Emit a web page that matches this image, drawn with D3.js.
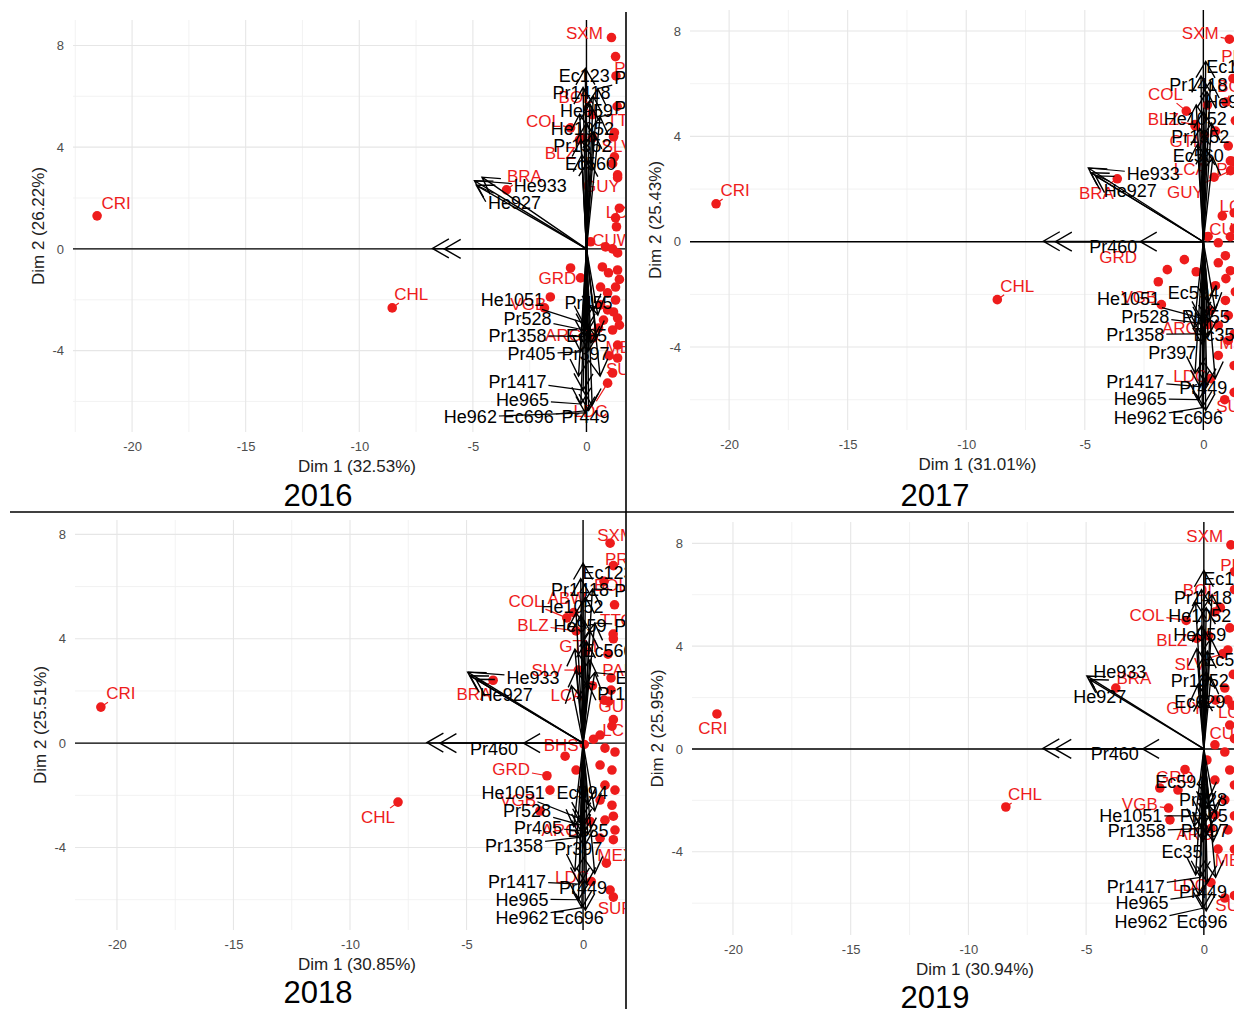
<!DOCTYPE html>
<html>
<head>
<meta charset="utf-8">
<script src="https://cdn.jsdelivr.net/npm/d3@7"></script>
<style>
  body { margin: 0; background: #fff; }
  svg { display: block; font-family: "Liberation Sans", Arial, sans-serif; }
</style>
</head>
<body>
<svg id="chart" width="1234" height="1009"></svg>
<script>
// ---- PCA biplots, one per year ----
const years = ["2016", "2017", "2018", "2019"];
const dim1Pct = [32.53, 31.01, 30.85, 30.94];
const dim2Pct = [26.22, 25.43, 25.51, 25.95];
const xTicks = [-20, -15, -10, -5, 0];
const yTicks = [-4, 0, 4, 8];

// Individuals: code, Dim 1, Dim 2, label Dim 1, label Dim 2 (label omitted when absent)
const countries2016 = [
  ["CRI", -21.54, 1.30, -20.70, 1.81], ["CHL", -8.55, -2.32, -7.71, -1.77],
  ["BRA", -3.52, 2.32, -2.73, 2.87], ["SXM", 1.10, 8.31, -0.09, 8.50],
  ["PRI", 1.28, 7.56, 1.85, 7.13], ["BOL", 0.26, 5.28, -0.48, 5.98],
  ["COL", -0.70, 4.76, -1.89, 5.04], ["BLZ", -0.31, 4.29, -1.15, 3.78],
  ["TTO", 1.23, 4.57, 1.65, 5.08], ["SLV", 1.15, 3.35, 1.35, 4.06],
  ["GUY", 1.37, 2.91, 0.66, 2.48], ["LCN", 1.28, 1.22, 1.60, 1.46],
  ["CUW", 0.18, 0.28, 1.15, 0.35], ["GRD", -0.70, -0.75, -1.28, -1.14],
  ["VGB", -1.85, -2.32, -2.56, -2.17], ["ARG", 0.53, -3.11, -1.01, -3.39],
  ["MEX", 1.37, -3.78, 1.65, -3.86], ["SUR", 1.37, -4.29, 1.65, -4.72],
  ["LDC", 0.93, -5.28, 0.18, -6.35],
  ["ABW", -0.18, 4.37], ["AIA", 0.26, 4.37], ["ATG", 1.19, 4.41], ["BHS", 1.23, 3.62],
  ["BRB", 1.37, 2.80], ["CYM", 1.32, 0.87], ["DMA", 0.84, 0.08], ["DOM", 1.15, 0.00],
  ["ECU", 1.37, -0.16], ["GTM", 0.70, -0.71], ["HND", 0.97, -0.94], ["HTI", 1.37, -0.83],
  ["JAM", -0.26, -1.14], ["KNA", 0.62, -1.50], ["MSR", 0.93, -1.73], ["NIC", 1.28, -1.50],
  ["PAN", 1.28, -2.01], ["PER", 0.62, -2.20], ["PRY", 0.93, -2.40], ["TCA", 1.19, -2.48],
  ["URY", 1.37, -2.72], ["VCT", 0.75, -2.80], ["VEN", 1.15, -3.19], ["VIR", 1.15, -4.88],
  ["CUB", -1.59, -1.89], ["BMU", 1.30, 6.80], ["LCA", 1.45, 1.60], ["BES", 1.45, -1.20],
  ["MAF", 1.45, -3.00], ["GLP", 1.35, 5.60], ["MTQ", 0.30, -3.50], ["GUF", 1.00, -4.20]
];
const countries2017 = [
  ["CRI", -20.55, 1.44, -19.75, 1.97], ["CHL", -8.69, -2.20, -7.85, -1.67],
  ["BRA", -3.63, 2.39, -4.51, 1.86], ["SXM", 1.10, 7.69, -0.13, 7.92],
  ["PRI", 1.45, 6.75, 1.35, 7.05], ["COL", -0.72, 4.96, -1.60, 5.61],
  ["BOL", 0.95, 5.30, 1.30, 5.90], ["BLZ", -0.35, 4.45, -1.69, 4.66],
  ["GTM", 0.05, 4.05, -0.63, 3.83], ["LCA", 0.45, 2.45, -0.55, 2.77],
  ["PAN", 1.25, 3.05, 1.25, 2.77], ["GUY", 1.15, 2.70, -0.76, 1.89],
  ["LCN", 1.30, 1.10, 1.40, 1.36], ["CUW", 0.20, 0.20, 1.10, 0.49],
  ["GRD", -0.80, -0.68, -3.59, -0.57], ["VGB", -1.77, -2.39, -2.70, -2.08],
  ["ARG", 0.20, -3.15, -0.97, -3.26], ["MEX", 1.30, -3.50, 1.45, -3.83],
  ["LDC", 0.30, -5.20, -0.55, -5.08], ["SUR", 1.30, -5.72, 1.30, -6.25],
  ["ABW", 0.17, 0.19], ["AIA", 0.63, -0.04], ["ATG", 1.14, 0.19], ["BHS", 0.93, -0.53],
  ["BRB", 0.63, -0.80], ["CYM", 1.14, -1.10], ["DMA", -1.52, -1.06], ["DOM", -0.30, -1.14],
  ["ECU", -1.90, -1.52], ["HND", 0.51, -1.67], ["HTI", 0.93, -2.23], ["JAM", 0.30, -2.61],
  ["KNA", 1.05, -2.80], ["MSR", 0.63, -3.18], ["NIC", 1.05, -3.75], ["PER", 0.63, -4.32],
  ["PRY", -0.34, 4.39], ["TCA", 0.51, 4.20], ["URY", 1.05, 3.64], ["VCT", 1.14, 3.07],
  ["VEN", 0.80, 0.98], ["VIR", 0.17, 5.19], ["CUB", 1.25, 6.20], ["BMU", 1.35, -1.90],
  ["TTO", 1.35, 4.60], ["SLV", 0.90, -6.00], ["BES", 1.30, -4.70], ["MAF", 0.95, -1.40],
  ["GLP", 1.30, 0.50]
];
const countries2018 = [
  ["CRI", -20.69, 1.38, -19.83, 1.92], ["CHL", -7.94, -2.26, -8.80, -2.84],
  ["BRA", -3.86, 2.41, -4.68, 1.88], ["SXM", 1.16, 7.66, 1.40, 7.97],
  ["PRI", 1.30, 6.80, 1.55, 7.05], ["BOL", 0.90, 6.20, 1.20, 6.05],
  ["ABW", -0.40, 5.00, -0.69, 5.56], ["COL", -0.70, 4.80, -2.45, 5.44],
  ["BLZ", -0.30, 4.30, -2.15, 4.52], ["TTO", 1.30, 4.00, 1.45, 4.71],
  ["GTM", 0.10, 3.50, -0.21, 3.72], ["SLV", -0.20, 2.80, -1.55, 2.80],
  ["PAN", 1.20, 2.50, 1.55, 2.80], ["LCA", 0.40, 2.20, -0.69, 1.84],
  ["GUY", 1.10, 1.60, 1.45, 1.42], ["LCN", 1.30, 0.90, 1.55, 0.50],
  ["BHS", 0.05, -0.05, -0.94, -0.08], ["GRD", -1.55, -1.25, -3.09, -1.00],
  ["VGB", -1.85, -2.60, -2.79, -2.18], ["ARG", 0.30, -3.00, -0.99, -3.33],
  ["MEX", 1.30, -3.70, 1.40, -4.29], ["LDC", 0.35, -5.30, -0.47, -5.13],
  ["SUR", 1.30, -5.90, 1.40, -6.32],
  ["AIA", 1.29, 4.18], ["ATG", 1.07, 3.41], ["BRB", 1.20, 2.03], ["CYM", 0.90, 1.65],
  ["DMA", 1.24, 0.65], ["DOM", 0.73, 0.31], ["ECU", 0.94, -0.19], ["HND", 1.37, -0.34],
  ["HTI", -0.77, -0.50], ["JAM", -0.30, -1.03], ["KNA", -1.42, -1.80], ["MSR", 0.73, -0.84],
  ["NIC", 1.24, -1.03], ["PER", 0.94, -1.61], ["PRY", 1.37, -1.80], ["TCA", 0.73, -2.18],
  ["URY", 1.24, -2.38], ["VCT", 0.94, -2.95], ["VEN", 1.37, -3.33], ["VIR", 0.73, -3.64],
  ["CUB", 1.16, -5.63], ["CUW", 0.45, 0.15], ["BMU", 1.35, 5.30], ["BES", 1.30, -2.80],
  ["MAF", 1.00, -4.60]
];
const countries2019 = [
  ["CRI", -20.68, 1.36, -20.85, 0.82], ["CHL", -8.41, -2.26, -7.60, -1.75],
  ["BRA", -3.74, 2.37, -2.97, 2.76], ["SXM", 1.15, 7.94, 0.04, 8.29],
  ["PRI", 1.30, 6.90, 1.30, 7.16], ["BOL", 0.70, 5.50, -0.17, 6.19],
  ["COL", -0.75, 5.00, -2.42, 5.21], ["BLZ", -0.30, 4.30, -1.36, 4.24],
  ["SLV", 0.80, 3.70, -0.59, 3.31], ["GUY", 0.50, 1.90, -0.81, 1.60],
  ["LCA", 1.20, 1.70, 1.30, 1.44], ["CUW", 1.30, 0.40, 1.10, 0.62],
  ["GRD", -0.80, -0.80, -1.23, -1.09], ["VGB", -1.50, -2.30, -2.72, -2.14],
  ["ARG", 0.30, -3.10, -0.38, -3.31], ["MEX", 1.30, -3.90, 1.25, -4.32],
  ["LDC", 0.30, -5.20, -0.59, -5.29], ["SUR", 1.30, -5.70, 1.25, -6.07],
  ["ABW", 0.47, 5.33], ["AIA", 1.10, 4.71], ["ATG", 1.02, 3.85], ["BHS", 0.89, 2.37],
  ["BRB", 1.02, 1.91], ["CYM", 1.10, 0.93], ["DMA", 0.47, 0.16], ["DOM", 0.89, -0.12],
  ["ECU", 0.13, -0.43], ["HND", -1.10, -1.60], ["HTI", -1.87, -1.52], ["JAM", -1.44, -2.76],
  ["KNA", 0.47, -1.21], ["MSR", 0.89, -1.98], ["NIC", 1.10, -0.82], ["PER", 0.47, -2.57],
  ["PRY", 1.02, -3.15], ["TCA", 0.89, -5.80], ["URY", 1.30, -1.40], ["VCT", 1.30, -2.60],
  ["VEN", 0.60, -3.90], ["VIR", 1.25, 2.90], ["CUB", 1.30, 6.20], ["TTO", 0.20, 4.40]
];

// Variables: name, Dim 1, Dim 2, label Dim 1, label Dim 2 (null name = label not shown)
const vars2016 = [
  ["Ec123", -0.05, 7.10, -0.10, 6.80], ["Pr1418", -0.15, 6.35, -0.22, 6.14],
  ["He959", 0.15, 5.70, 0.00, 5.43], ["He1052", 0.00, 4.95, -0.18, 4.72],
  ["Pr1352", -0.25, 4.30, -0.18, 4.06], ["Ec560", 0.10, 3.50, 0.18, 3.35],
  ["Pr1436", 0.50, 6.30, 2.50, 6.73], ["Pr1433", 0.60, 5.20, 2.50, 5.55],
  [null, 0.30, 6.00], [null, -0.30, 5.30], [null, 0.30, 4.60], [null, -0.20, 3.70],
  ["He933", -4.93, 2.68, -2.03, 2.48], ["He927", -4.85, 2.50, -3.17, 1.81],
  [null, -4.60, 2.82],
  [null, -6.78, 0.02], [null, -6.26, 0.00],
  ["Pr455", 0.30, -2.45, 0.09, -2.09], ["He1051", -0.15, -2.90, -3.26, -2.00],
  ["Pr528", -0.05, -3.20, -2.60, -2.72], ["Pr1358", -0.10, -3.45, -3.04, -3.39],
  ["Ec35", 0.20, -3.70, 0.00, -3.39], ["Pr405", -0.25, -4.05, -2.42, -4.13],
  ["Pr397", 0.10, -4.00, -0.04, -4.13], ["Pr1417", -0.15, -5.55, -3.04, -5.20],
  ["He965", -0.25, -6.10, -2.82, -5.94], ["He962", -0.05, -6.45, -5.11, -6.61],
  ["Ec696", 0.10, -6.35, -2.56, -6.61], ["Pr449", 0.25, -6.15, -0.04, -6.61],
  [null, 0.50, -2.60], [null, 0.45, -3.50], [null, 0.60, -5.00], [null, -0.35, -5.00]
];
const vars2017 = [
  ["Ec123", 0.10, 6.85, 1.20, 6.67], ["Pr1418", -0.10, 6.30, -0.21, 5.98],
  ["He959", 0.15, 5.70, 1.20, 5.34], ["He1052", 0.00, 4.95, -0.34, 4.66],
  ["Pr1352", -0.15, 4.30, -0.13, 3.98], ["Ec560", 0.10, 3.55, -0.21, 3.26],
  [null, 0.30, 6.10], [null, -0.30, 5.20], [null, 0.35, 4.50], [null, -0.25, 3.70], [null, 0.40, 3.20],
  ["He933", -4.85, 2.80, -2.11, 2.58], ["He927", -4.75, 2.62, -3.08, 1.93],
  [null, -4.55, 2.50],
  [null, -6.75, 0.02], [null, -6.24, 0.00],
  ["Pr460", -2.66, 0.00, -3.80, -0.19],
  ["Ec594", 0.20, -2.30, -0.42, -1.93], ["He1051", -0.10, -2.90, -3.16, -2.16],
  ["Pr528", -0.05, -3.10, -2.45, -2.84], ["Pr455", 0.25, -3.00, 0.10, -2.84],
  ["Pr1358", -0.10, -3.50, -2.87, -3.52], ["Ec35", 0.20, -3.60, 0.45, -3.52],
  ["Pr397", -0.05, -3.90, -1.31, -4.20], ["Pr1417", -0.15, -5.50, -2.87, -5.30],
  ["Pr449", 0.15, -5.45, 0.00, -5.53], ["He965", -0.20, -6.00, -2.66, -5.95],
  ["He962", -0.05, -6.30, -2.66, -6.67], ["Ec696", 0.10, -6.40, -0.25, -6.67],
  [null, 0.50, -2.60], [null, -0.40, -3.30], [null, 0.50, -5.20], [null, -0.35, -5.00]
];
const vars2018 = [
  ["Ec123", 0.00, 6.90, 1.07, 6.55], ["Pr1418", -0.10, 6.30, -0.13, 5.90],
  ["He1052", 0.10, 5.60, -0.47, 5.25], ["He959", -0.10, 4.90, -0.13, 4.52],
  ["Ec560", 0.15, 3.90, 1.07, 3.56], ["Pr1352", 0.20, 2.30, 1.85, 1.92],
  ["Pr1436", 0.40, 5.90, 2.58, 5.86], ["Pr1433", 0.50, 4.60, 2.58, 4.52],
  ["Ec629", 0.50, 2.70, 2.49, 2.53],
  [null, -0.30, 5.00], [null, 0.30, 4.30], [null, -0.35, 3.60], [null, -0.30, 2.80],
  [null, 0.30, 3.20], [null, -0.50, 2.20],
  ["He933", -4.95, 2.72, -2.15, 2.53], ["He927", -4.85, 2.58, -3.30, 1.88],
  [null, -4.60, 2.45],
  [null, -6.70, 0.02], [null, -6.14, 0.00],
  ["Pr460", -2.55, 0.00, -3.82, -0.19],
  ["Ec594", 0.20, -2.35, -0.04, -1.88], ["He1051", -0.10, -2.90, -3.00, -1.88],
  ["Pr528", -0.05, -3.15, -2.40, -2.57], ["Pr405", -0.10, -3.35, -1.93, -3.22],
  ["Ec35", 0.20, -3.50, 0.21, -3.33], ["Pr1358", -0.10, -3.60, -2.96, -3.91],
  ["Pr397", 0.05, -3.95, -0.21, -4.02], ["Pr1417", -0.15, -5.40, -2.83, -5.29],
  ["Pr449", 0.15, -5.40, 0.00, -5.52], ["He965", -0.20, -6.00, -2.62, -5.98],
  ["He962", -0.05, -6.30, -2.62, -6.67], ["Ec696", 0.10, -6.40, -0.21, -6.67],
  [null, 0.50, -2.60], [null, -0.40, -3.20], [null, 0.50, -5.00], [null, -0.35, -4.90]
];
const vars2019 = [
  ["Ec123", 0.00, 6.95, 1.06, 6.65], ["Pr1418", -0.10, 6.20, -0.04, 5.88],
  ["He1052", 0.10, 5.50, -0.17, 5.21], ["He959", -0.10, 4.80, -0.17, 4.47],
  ["Ec560", 0.15, 3.80, 1.06, 3.46], ["Pr1352", 0.10, 3.00, -0.17, 2.68],
  ["Ec629", -0.05, 2.10, -0.17, 1.83],
  [null, 0.35, 6.00], [null, -0.35, 5.70], [null, 0.30, 4.30], [null, -0.30, 3.90],
  [null, 0.30, 2.80], [null, -0.25, 2.50],
  ["He933", -4.97, 2.84, -3.57, 3.00], ["He927", -4.84, 2.70, -4.42, 2.02],
  [null, -6.84, 0.02], [null, -6.33, 0.00],
  ["Pr460", -2.60, 0.00, -3.78, -0.16],
  ["Ec594", 0.20, -1.95, -0.98, -1.28], ["Pr528", 0.15, -2.30, -0.04, -1.98],
  ["He1051", -0.10, -2.60, -3.10, -2.61], ["Pr405", 0.25, -2.75, 0.00, -2.61],
  ["Pr1358", -0.10, -3.10, -2.85, -3.19], ["Pr397", 0.10, -3.30, 0.04, -3.19],
  ["Ec35", -0.05, -3.60, -0.93, -4.01], ["Pr1417", -0.15, -5.00, -2.89, -5.37],
  ["Pr449", 0.15, -5.20, -0.04, -5.56], ["He965", -0.20, -5.70, -2.63, -5.99],
  ["He962", -0.05, -6.20, -2.67, -6.73], ["Ec696", 0.10, -6.30, -0.08, -6.73],
  [null, 0.50, -2.50], [null, -0.40, -3.00], [null, 0.50, -5.00], [null, -0.35, -4.90], [null, 0.40, -3.60]
];

const countriesByYear = [countries2016, countries2017, countries2018, countries2019];
const varsByYear = [vars2016, vars2017, vars2018, vars2019];

// ---- layout of the four panels ----
const frames = [
  { left: 73,  right: 641,  top: 20,  bottom: 432, xd: [-22.6, 2.4],   yd: [-7.2, 9.0],   clip: [0, 0, 625, 511],     yearX: 318, yearY: 506 },
  { left: 690, right: 1265, top: 10,  bottom: 430, xd: [-21.65, 2.6],  yd: [-7.15, 8.8],  clip: [627, 0, 607, 511],   yearX: 935, yearY: 506 },
  { left: 75,  right: 639,  top: 520, bottom: 930, xd: [-21.8, 2.4],   yd: [-7.16, 8.55], clip: [0, 513, 625, 496],   yearX: 318, yearY: 1003 },
  { left: 692, right: 1258, top: 522, bottom: 935, xd: [-21.74, 2.3],  yd: [-7.24, 8.83], clip: [627, 513, 607, 496], yearX: 935, yearY: 1008 }
];

const RED = "#ee1c1c";
const svg = d3.select("#chart");
const defs = svg.append("defs");
svg.append("rect").attr("width", 1234).attr("height", 1009).attr("fill", "#fff");

function arrowPath(x0, y0, x1, y1) {
  const a = Math.atan2(y1 - y0, x1 - x0), L = 19, w = Math.PI / 6;
  const p1 = [x1 - L * Math.cos(a - w), y1 - L * Math.sin(a - w)];
  const p2 = [x1 - L * Math.cos(a + w), y1 - L * Math.sin(a + w)];
  return `M${x0},${y0}L${x1},${y1}M${p1[0]},${p1[1]}L${x1},${y1}L${p2[0]},${p2[1]}`;
}

// text label with a leader segment towards its target when it sits away from it
function addLabel(segG, txtG, name, lx, ly, tx, ty, color, size, maxSeg) {
  const t = txtG.append("text")
    .attr("x", lx).attr("y", ly).attr("dy", "0.36em")
    .attr("text-anchor", "middle")
    .attr("font-size", size).attr("fill", color)
    .text(name);
  const hw = t.node().getComputedTextLength() / 2 + 2, hh = size * 0.42 + 2;
  const dx = tx - lx, dy = ty - ly;
  if (Math.abs(dx) <= hw && Math.abs(dy) <= hh) return;
  const s = Math.min(hw / Math.max(Math.abs(dx), 1e-6), hh / Math.max(Math.abs(dy), 1e-6));
  const sx = lx + dx * s, sy = ly + dy * s;
  const len = Math.hypot(tx - sx, ty - sy);
  if (len < 7 || len > maxSeg) return;
  segG.append("line")
    .attr("x1", sx).attr("y1", sy).attr("x2", tx).attr("y2", ty)
    .attr("stroke", color).attr("stroke-width", 1.2);
}

frames.forEach((f, i) => {
  const x = d3.scaleLinear().domain(f.xd).range([f.left, f.right]);
  const y = d3.scaleLinear().domain(f.yd).range([f.bottom, f.top]);

  defs.append("clipPath").attr("id", "clip" + i)
    .append("rect").attr("x", f.clip[0]).attr("y", f.clip[1])
    .attr("width", f.clip[2]).attr("height", f.clip[3]);
  const g = svg.append("g").attr("clip-path", `url(#clip${i})`);

  // grid
  const grid = g.append("g");
  const xMinor = d3.range(-22.5, 5, 5).filter(v => v >= f.xd[0] && v <= f.xd[1]);
  const yMinor = d3.range(-6, 10, 4).filter(v => v >= f.yd[0] && v <= f.yd[1]);
  grid.selectAll(".vx").data(xMinor).join("line")
    .attr("x1", d => x(d)).attr("x2", d => x(d)).attr("y1", f.top).attr("y2", f.bottom)
    .attr("stroke", "#f0f0f0").attr("stroke-width", 0.9);
  grid.selectAll(".hy").data(yMinor).join("line")
    .attr("y1", d => y(d)).attr("y2", d => y(d)).attr("x1", f.left).attr("x2", f.right)
    .attr("stroke", "#f0f0f0").attr("stroke-width", 0.9);
  grid.selectAll(".vX").data(xTicks).join("line")
    .attr("x1", d => x(d)).attr("x2", d => x(d)).attr("y1", f.top).attr("y2", f.bottom)
    .attr("stroke", "#e6e6e6").attr("stroke-width", 1.1);
  grid.selectAll(".hY").data(yTicks).join("line")
    .attr("y1", d => y(d)).attr("y2", d => y(d)).attr("x1", f.left).attr("x2", f.right)
    .attr("stroke", "#e6e6e6").attr("stroke-width", 1.1);

  // axis tick labels (plain hyphen for negatives)
  const fmt = d => String(d);
  const xa = g.append("g").attr("transform", `translate(0,${f.bottom})`)
    .call(d3.axisBottom(x).tickValues(xTicks).tickSize(0).tickPadding(10).tickFormat(fmt));
  const ya = g.append("g").attr("transform", `translate(${f.left},0)`)
    .call(d3.axisLeft(y).tickValues(yTicks).tickSize(0).tickPadding(9).tickFormat(fmt));
  [xa, ya].forEach(a => {
    a.select(".domain").remove();
    a.selectAll("text").attr("fill", "#4d4d4d").attr("font-size", 13)
      .attr("font-family", "Liberation Sans, Arial, sans-serif");
  });

  // axis titles
  g.append("text").attr("x", (f.left + f.right) / 2).attr("y", f.bottom + 40)
    .attr("text-anchor", "middle").attr("font-size", 17).attr("fill", "#222")
    .text(`Dim 1 (${dim1Pct[i].toFixed(2)}%)`);
  g.append("text")
    .attr("transform", `translate(${f.left - 35},${(f.top + f.bottom) / 2}) rotate(-90)`)
    .attr("dy", "0.36em").attr("text-anchor", "middle").attr("font-size", 17).attr("fill", "#222")
    .text(`Dim 2 (${dim2Pct[i].toFixed(2)}%)`);

  // reference lines through the origin
  g.append("line").attr("x1", f.left).attr("x2", f.right).attr("y1", y(0)).attr("y2", y(0))
    .attr("stroke", "#000").attr("stroke-width", 1.4);
  g.append("line").attr("x1", x(0)).attr("x2", x(0)).attr("y1", f.top).attr("y2", f.bottom)
    .attr("stroke", "#000").attr("stroke-width", 1.4);

  // individuals
  const cs = countriesByYear[i];
  g.append("g").selectAll("circle").data(cs).join("circle")
    .attr("cx", d => x(d[1])).attr("cy", d => y(d[2])).attr("r", 4.8).attr("fill", RED);
  const cSeg = g.append("g"), cTxt = g.append("g");
  cs.filter(d => d.length > 3).forEach(d =>
    addLabel(cSeg, cTxt, d[0], x(d[3]), y(d[4]), x(d[1]), y(d[2]), RED, 17, 40));

  // variables
  const vs = varsByYear[i];
  g.append("g").selectAll("path").data(vs).join("path")
    .attr("d", d => arrowPath(x(0), y(0), x(d[1]), y(d[2])))
    .attr("fill", "none").attr("stroke", "#000").attr("stroke-width", 1.4)
    .attr("stroke-linejoin", "miter");
  const vSeg = g.append("g"), vTxt = g.append("g");
  vs.filter(d => d[0]).forEach(d =>
    addLabel(vSeg, vTxt, d[0], x(d[3]), y(d[4]), x(d[1]), y(d[2]), "#000", 18, 1000));

  // year caption
  svg.append("text").attr("x", f.yearX).attr("y", f.yearY)
    .attr("text-anchor", "middle").attr("font-size", 31).attr("fill", "#000")
    .text(years[i]);
});

// separators between the four panels
svg.append("line").attr("x1", 626).attr("x2", 626).attr("y1", 12).attr("y2", 1009)
  .attr("stroke", "#000").attr("stroke-width", 1.6);
svg.append("line").attr("x1", 10).attr("x2", 1234).attr("y1", 512).attr("y2", 512)
  .attr("stroke", "#000").attr("stroke-width", 1.6);
</script>
</body>
</html>
